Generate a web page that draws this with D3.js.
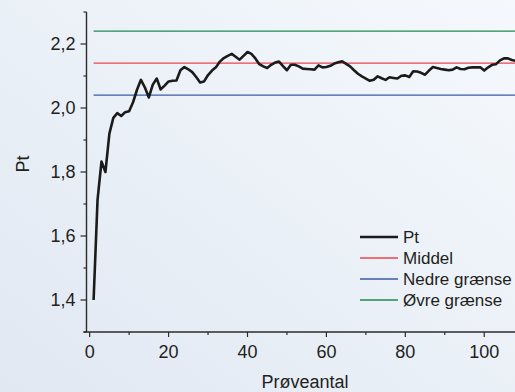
<!DOCTYPE html>
<html>
<head>
<meta charset="utf-8">
<script src="https://cdn.jsdelivr.net/npm/d3@7"></script>
<style>
  body { margin: 0; }
  svg { display: block; font-family: "Liberation Sans", Arial, sans-serif; }
</style>
</head>
<body>
<div id="chart"></div>
<script>
// Pt measured per sample (sample number = index + 1)
const pt_values = [
  1.400, 1.713, 1.833, 1.800, 1.920, 1.969, 1.984, 1.975, 1.987, 1.990,
  2.018, 2.057, 2.088, 2.064, 2.033, 2.073, 2.092, 2.058, 2.070, 2.083,
  2.085, 2.086, 2.118, 2.128, 2.121, 2.112, 2.097, 2.080, 2.083, 2.103,
  2.117, 2.127, 2.145, 2.156, 2.163, 2.169, 2.160, 2.151, 2.163, 2.175,
  2.169, 2.155, 2.137, 2.130, 2.125, 2.135, 2.142, 2.145, 2.131, 2.118,
  2.135, 2.135, 2.130, 2.123, 2.122, 2.121, 2.120, 2.133, 2.127, 2.128,
  2.132, 2.139, 2.143, 2.146, 2.138, 2.130, 2.118, 2.107, 2.099, 2.092,
  2.085, 2.088, 2.099, 2.093, 2.088, 2.096, 2.094, 2.092, 2.101, 2.102,
  2.097, 2.115, 2.114, 2.110, 2.104, 2.117, 2.128, 2.125, 2.122, 2.120,
  2.118, 2.120, 2.127, 2.122, 2.121, 2.126, 2.127, 2.127, 2.127, 2.117,
  2.127, 2.135, 2.137, 2.149, 2.155, 2.155, 2.150, 2.147
]
const middel = 2.14
const nedre = 2.04
const ovre = 2.24
const x_ticks = [0, 20, 40, 60, 80, 100]
const y_ticks = [1.4, 1.6, 1.8, 2.0, 2.2]
const legend_items = [
  {name: "Pt", color: "#1b1b1b", width: 2.6},
  {name: "Middel", color: "#f0434f", width: 1.3},
  {name: "Nedre grænse", color: "#3a5ba6", width: 1.3},
  {name: "Øvre grænse", color: "#1f8a52", width: 1.3}
]

const width = 515, height = 392
const margin = {top: 12, bottom: 60, left: 86.5, right: 0}

const svg = d3.select("#chart").append("svg")
    .attr("width", width)
    .attr("height", height)

const grad = svg.append("defs").append("linearGradient")
    .attr("id", "bg")
    .attr("x1", "0%").attr("y1", "100%")
    .attr("x2", "100%").attr("y2", "0%")
grad.append("stop").attr("offset", "0%").attr("stop-color", "#e1e8f2")
grad.append("stop").attr("offset", "100%").attr("stop-color", "#f5f9fd")

svg.append("rect")
    .attr("width", width)
    .attr("height", height)
    .attr("fill", "url(#bg)")

const xScale = d3.scaleLinear()
    .domain([-0.8, 107.8])
    .range([margin.left, width - margin.right])
const yScale = d3.scaleLinear()
    .domain([1.3, 2.3])
    .range([height - margin.bottom, margin.top])

const fmt = d => d3.format(".1f")(d).replace(".", ",")
const textColor = "#231f20"
const axisColor = "#2b2b2b"

svg.append("clipPath").attr("id", "plot-clip")
    .append("rect")
    .attr("x", margin.left)
    .attr("y", 0)
    .attr("width", width - margin.left)
    .attr("height", height - margin.bottom)

const plot = svg.append("g").attr("clip-path", "url(#plot-clip)")

// reference lines
const refs = [
  {v: ovre, color: legend_items[3].color},
  {v: middel, color: legend_items[1].color},
  {v: nedre, color: legend_items[2].color}
]
plot.selectAll("line.ref")
    .data(refs)
    .enter().append("line")
    .attr("class", "ref")
    .attr("x1", xScale(1))
    .attr("x2", xScale(108))
    .attr("y1", d => yScale(d.v))
    .attr("y2", d => yScale(d.v))
    .attr("stroke", d => d.color)
    .attr("stroke-width", 1.3)

const line = d3.line()
    .x((d, i) => xScale(i + 1))
    .y(d => yScale(d))

plot.append("path")
    .datum(pt_values)
    .attr("fill", "none")
    .attr("stroke", legend_items[0].color)
    .attr("stroke-width", 2.6)
    .attr("stroke-linejoin", "round")
    .attr("d", line)

// x axis
const xAxis = svg.append("g")
    .attr("transform", `translate(0,${height - margin.bottom})`)
xAxis.append("line")
    .attr("x1", margin.left - 3).attr("x2", width)
    .attr("stroke", axisColor).attr("stroke-width", 1.4)
xAxis.selectAll("line.minor")
    .data(d3.range(10, 110, 20))
    .enter().append("line")
    .attr("x1", d => xScale(d)).attr("x2", d => xScale(d))
    .attr("y1", 0).attr("y2", 3)
    .attr("stroke", axisColor).attr("stroke-width", 1.2)
xAxis.selectAll("line.major")
    .data(x_ticks)
    .enter().append("line")
    .attr("x1", d => xScale(d)).attr("x2", d => xScale(d))
    .attr("y1", 0).attr("y2", 5)
    .attr("stroke", axisColor).attr("stroke-width", 1.2)
xAxis.selectAll("text")
    .data(x_ticks)
    .enter().append("text")
    .attr("x", d => xScale(d))
    .attr("y", 26)
    .attr("text-anchor", "middle")
    .attr("font-size", 18)
    .attr("fill", textColor)
    .text(d => d)

// y axis
const yAxis = svg.append("g")
    .attr("transform", `translate(${margin.left},0)`)
yAxis.append("line")
    .attr("y1", margin.top).attr("y2", height - margin.bottom)
    .attr("stroke", axisColor).attr("stroke-width", 1.4)
yAxis.selectAll("line.minor")
    .data([1.3, 1.5, 1.7, 1.9, 2.1, 2.3])
    .enter().append("line")
    .attr("y1", d => yScale(d)).attr("y2", d => yScale(d))
    .attr("x1", 0).attr("x2", -3)
    .attr("stroke", axisColor).attr("stroke-width", 1.2)
yAxis.selectAll("line.major")
    .data(y_ticks)
    .enter().append("line")
    .attr("y1", d => yScale(d)).attr("y2", d => yScale(d))
    .attr("x1", 0).attr("x2", -6)
    .attr("stroke", axisColor).attr("stroke-width", 1.2)
yAxis.selectAll("text")
    .data(y_ticks)
    .enter().append("text")
    .attr("x", -11)
    .attr("y", d => yScale(d))
    .attr("dy", "0.36em")
    .attr("text-anchor", "end")
    .attr("font-size", 18)
    .attr("fill", textColor)
    .text(fmt)

// axis titles
svg.append("text")
    .attr("transform", `translate(29,${164}) rotate(-90)`)
    .attr("text-anchor", "middle")
    .attr("font-size", 18)
    .attr("fill", textColor)
    .text("Pt")
svg.append("text")
    .attr("x", 305)
    .attr("y", 388)
    .attr("text-anchor", "middle")
    .attr("font-size", 18)
    .attr("fill", textColor)
    .text("Prøveantal")

// legend
const legend = svg.append("g").attr("transform", "translate(360,237)")
const rows = legend.selectAll("g")
    .data(legend_items)
    .enter().append("g")
    .attr("transform", (d, i) => `translate(0,${i * 21})`)
rows.append("line")
    .attr("x1", 0).attr("x2", 38)
    .attr("stroke", d => d.color)
    .attr("stroke-width", d => d.width)
rows.append("text")
    .attr("x", 43)
    .attr("dy", "0.36em")
    .attr("font-size", 17)
    .attr("fill", textColor)
    .text(d => d.name)
</script>
</body>
</html>
